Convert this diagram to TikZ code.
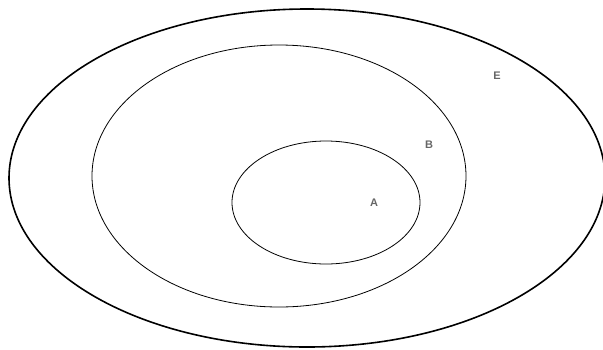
\documentclass[tikz,border=0pt]{standalone}
\usepackage{fontspec}
\setmainfont{Liberation Sans}
\usepackage{xcolor}
\definecolor{labelgray}{HTML}{666666}

\begin{document}
\begin{tikzpicture}[x=1pt,y=-1pt]
	\useasboundingbox (0,0) rectangle (603,349);
	\begin{scope}
		\clip (0,0) rectangle (603,349);
		\draw[line width=1.6pt] (307,178) ellipse (298 and 169);
	\end{scope}
	\draw[line width=0.8pt] (279,176) ellipse (187 and 131);
	\draw[line width=0.8pt] (326,202.5) ellipse (94 and 61.5);
	
	\node[labelgray, font=\fontsize{11}{13}\selectfont\bfseries] (labE) at (497,76) {E};
	\node[labelgray, font=\fontsize{11}{13}\selectfont\bfseries] (labB) at (429,145) {B};
	\node[labelgray, font=\fontsize{11}{13}\selectfont\bfseries] (labA) at (374,203) {A};
\end{tikzpicture}
\end{document}
